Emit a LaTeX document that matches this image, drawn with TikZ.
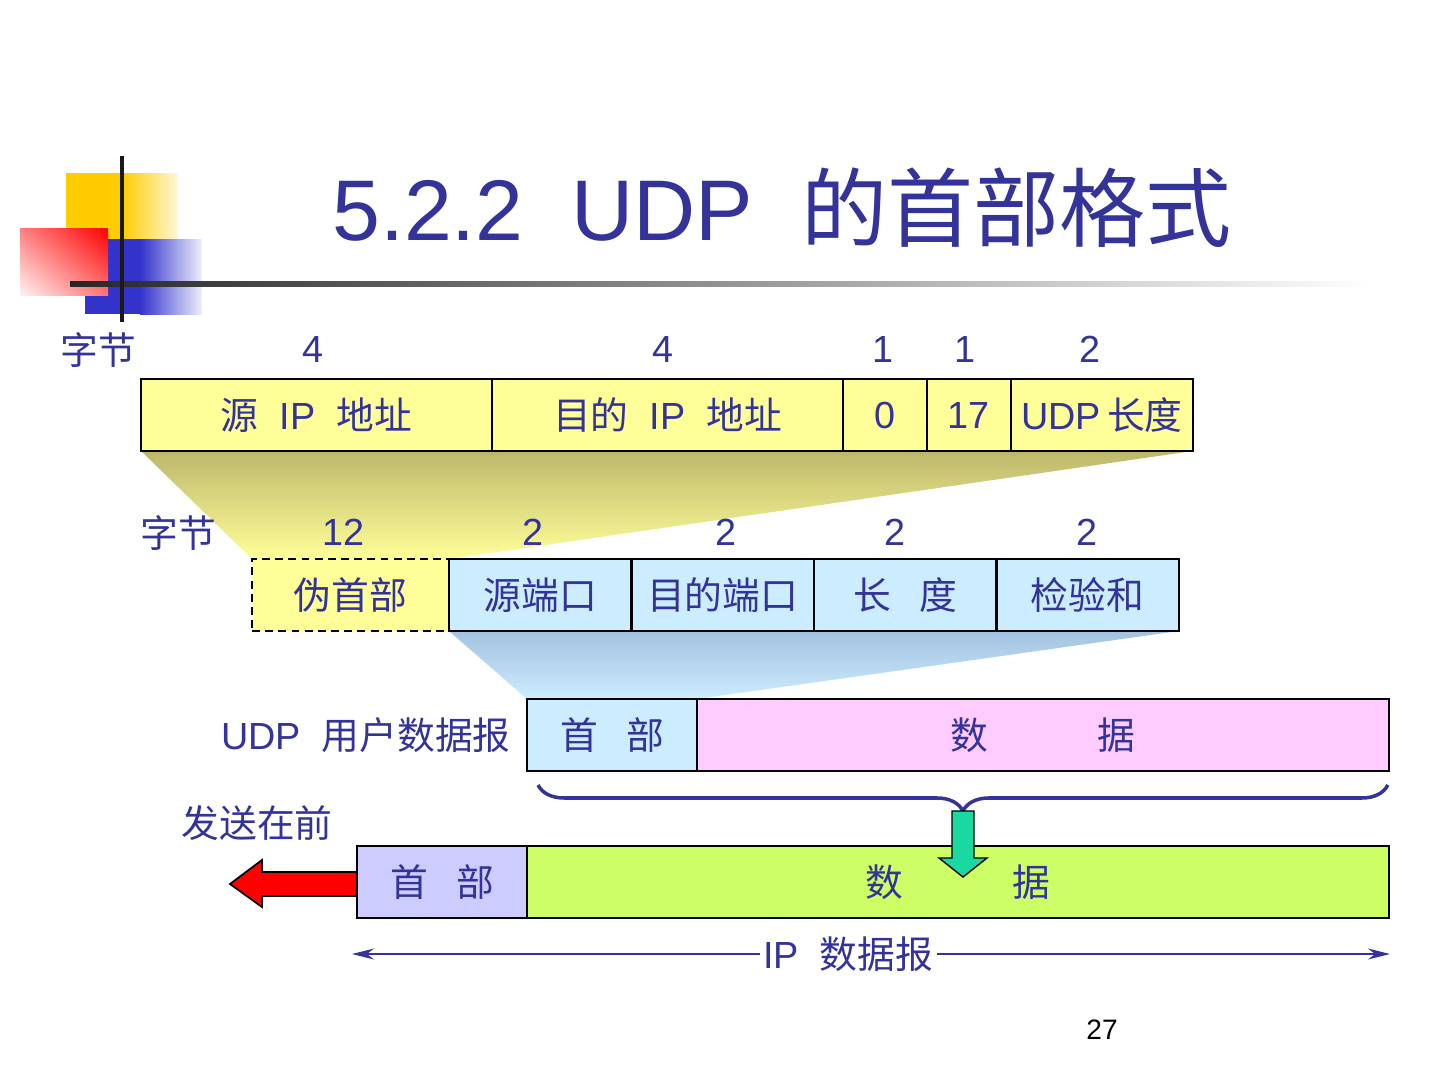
\documentclass[tikz,border=0pt]{standalone}
\usepackage{fontspec}
\setmainfont{Liberation Sans}
\newfontfamily\cjk{Noto Sans CJK SC}
\usepackage{xcolor}
\usetikzlibrary{positioning,arrows.meta,backgrounds,shadings,decorations.pathreplacing}
\definecolor{txtblue}{HTML}{333399}
\definecolor{fieldyellow}{HTML}{FFFF99}
\definecolor{fieldblue}{HTML}{CCECFF}
\definecolor{fieldpink}{HTML}{FFCCFF}
\definecolor{fieldlilac}{HTML}{CCCCFF}
\definecolor{fieldgreen}{HTML}{CCFF66}
\definecolor{arrowgreen}{HTML}{19D9A0}
\definecolor{trapolive}{HTML}{BDB76B}
\definecolor{trapblue}{HTML}{A3C2E0}
\definecolor{logoyellow}{HTML}{FFCC00}
\definecolor{logoblue}{HTML}{3333CC}
\newcommand{\zhtxt}[1]{{\cjk #1}}

\begin{document}
\begin{tikzpicture}[
    x=0.02cm, y=-0.02cm,
    field/.style={rectangle, draw, line width=1.3pt, minimum height=14.4mm, inner sep=0pt, outer sep=0pt, text=txtblue, font=\fontsize{21.5pt}{26pt}\selectfont},
    lbl/.style={inner sep=0pt, text=txtblue, font=\fontsize{21.5pt}{26pt}\selectfont}
]
\useasboundingbox (0,0) rectangle (1440,1080);

\fill[logoyellow] (66,173) rectangle (123,240);
\shade[left color=logoyellow, right color=logoyellow!15] (122,173) rectangle (178,240);
\fill[logoblue] (85,239) rectangle (141,314);
\shade[left color=logoblue, right color=logoblue!8] (140,239) rectangle (202,314);
\shade[upper left=red!50, upper right=red, lower left=red!5, lower right=red!55] (20,228) rectangle (108,295);
\shade[left color=black!85, middle color=black!70, right color=white] (70,281) rectangle (1370,286);
\draw[black!90, line width=2.6pt] (122,156) -- (122,322);

\node[anchor=base, text=txtblue, font=\fontsize{49pt}{58pt}\selectfont] (title) at (782,240) {5.2.2\ \ UDP\ \ \zhtxt{的首部格式}};

\node[lbl] (bytes1) at (98,350) {\zhtxt{字节}};
\foreach \x/\n in {313/4,663/4,883/1,965/1,1090/2}
  \node[lbl] (wa\x) at (\x,349) {\n};
\node[field, fill=fieldyellow, minimum width=70.2mm, anchor=north west] (srcip) at (141,379) {\zhtxt{源}\ \ IP\ \ \zhtxt{地址}\hspace{3mm}};
\node[field, fill=fieldyellow, minimum width=70.2mm, right=0pt of srcip] (dstip) {\zhtxt{目的}\ \ IP\ \ \zhtxt{地址}};
\node[field, fill=fieldyellow, minimum width=16.8mm, right=0pt of dstip] (zero) {0};
\node[field, fill=fieldyellow, minimum width=16.8mm, right=0pt of zero] (proto) {17};
\node[field, fill=fieldyellow, minimum width=36.4mm, right=0pt of proto] (udplen) {UDP\,\zhtxt{长度}};

\node[lbl] (bytes2) at (178,533) {\zhtxt{字节}};
\foreach \x/\n in {344/12,533/2,726/2,895/2,1087/2}
  \node[lbl] (wb\x) at (\x,532) {\n};
\node[field, fill=fieldyellow, dash pattern=on 4.5pt off 3pt, minimum width=39.4mm, anchor=north west] (pseudo) at (252,559) {\zhtxt{伪首部}};
\node[field, fill=fieldblue, minimum width=36.5mm, right=0pt of pseudo] (srcport) {\zhtxt{源端口}};
\node[field, fill=fieldblue, minimum width=36.5mm, right=0pt of srcport] (dstport) {\zhtxt{目的端口}};
\node[field, fill=fieldblue, minimum width=36.5mm, right=0pt of dstport] (length) {\zhtxt{长}\hspace{.75em}\zhtxt{度}};
\node[field, fill=fieldblue, minimum width=36.5mm, right=0pt of length] (checksum) {\zhtxt{检验和}};

\node[field, fill=fieldblue, minimum width=34mm, anchor=north west] (udphdr) at (527,699) {\zhtxt{首}\hspace{.75em}\zhtxt{部}};
\node[field, fill=fieldpink, minimum width=138.4mm, right=0pt of udphdr] (udpdata) {\zhtxt{数}\hspace{21.8mm}\zhtxt{据}};
\node[lbl, left=3.2mm of udphdr] (udplbl) {UDP\ \ \zhtxt{用户数据报}};

\node[lbl] (sendfirst) at (257,823) {\zhtxt{发送在前}};
\node[field, fill=fieldlilac, minimum width=34mm, anchor=north west] (iphdr) at (357,846) {\zhtxt{首}\hspace{.75em}\zhtxt{部}};
\node[field, fill=fieldgreen, minimum width=172.4mm, right=0pt of iphdr] (ipdata) {\zhtxt{数}\hspace{21.8mm}\zhtxt{据}};

\begin{scope}[on background layer]
\shade[top color=trapolive, bottom color=fieldyellow] (srcip.south west) -- (udplen.south east) -- (pseudo.north east) -- (pseudo.north west) -- cycle;
\shade[top color=trapblue, bottom color=fieldblue] (srcport.south west) -- (checksum.south east) -- (udphdr.north east) -- (udphdr.north west) -- cycle;
\end{scope}

\draw[txtblue, line width=2pt, decorate, decoration={brace, mirror, amplitude=5.2mm}] ([xshift=2.2mm, yshift=-2.8mm]udphdr.south west) -- ([xshift=-0.2mm, yshift=-2.8mm]udpdata.south east);
\filldraw[fill=arrowgreen, line width=0.8pt] (952,811) -- (974,811) -- (974,858) -- (987,858) -- (963,877) -- (939,858) -- (952,858) -- cycle;
\filldraw[fill=red, line width=1pt] (357,872) -- (262,872) -- (262,860) -- (230,884) -- (262,907) -- (262,896) -- (357,896) -- cycle;

\coordinate (ipleft) at (352,954);
\coordinate (ipright) at (1390,954);
\draw[txtblue, line width=1.1pt, {Stealth[length=4.4mm,width=2.2mm]}-{Stealth[length=4.4mm,width=2.2mm]}] (ipleft) -- node[lbl, fill=white, inner sep=2pt, pos=0.478] (iplbl) {IP\ \ \zhtxt{数据报}} (ipright);

\node[font=\fontsize{16pt}{19pt}\selectfont] (pageno) at (1102,1030) {27};
\end{tikzpicture}
\end{document}
